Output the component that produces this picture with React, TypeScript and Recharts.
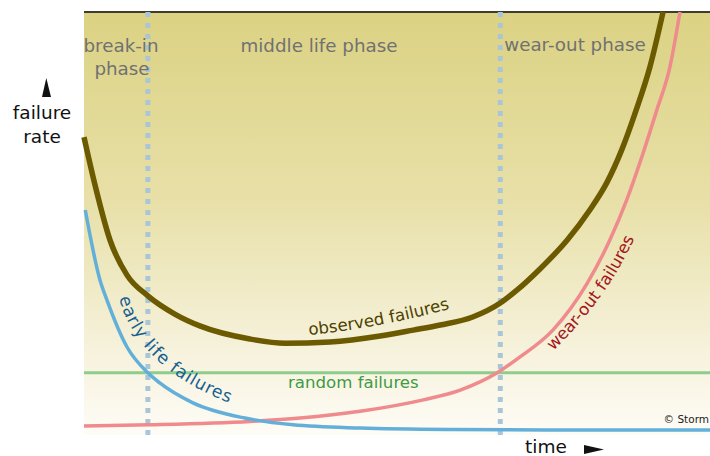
import { LineChart, Line, XAxis, YAxis, CartesianGrid, ReferenceLine } from "recharts";

// time axis runs 0..100, failure rate axis 0..100 (plot top)
const observedTime = [0, 1.76, 4.15, 6.87, 10.2, 14.5, 18.5, 26.5, 32.1, 39.3, 47.3, 52.6, 56.9, 62.1, 66.5, 69.2, 72.8, 77.2, 80.8, 83.5, 85.9, 88.2, 90.4, 92.5];
const observedRate = [70.4, 59.1, 46.1, 37.8, 32.9, 28.6, 25.8, 22.7, 21.7, 22.0, 23.4, 24.8, 26.0, 27.9, 31.2, 34.3, 39.2, 46.1, 53.2, 59.6, 67.4, 76.8, 87.0, 100];

const earlyTime = [0.2, 2.56, 3.67, 6.87, 10.2, 12.1, 17.4, 25.7, 33.4, 44.1, 58.5, 74.4, 100];
const earlyRate = [53.2, 36.6, 31.9, 20.8, 14.7, 12.3, 7.6, 4.0, 2.4, 1.65, 1.3, 1.2, 1.2];

const wearTime = [0, 10.5, 26.5, 34.5, 44.1, 54.2, 60.1, 66.0, 69.6, 74.9, 80.4, 84.0, 86.7, 89.1, 91.5, 93.6, 95.2];
const wearRate = [2.1, 2.4, 3.2, 4.0, 5.6, 8.3, 10.6, 14.7, 18.4, 24.8, 35.9, 46.1, 55.6, 65.7, 76.8, 87.0, 100];

const randomRate = 14.7;
const phaseBounds = [10.2, 66.5];
const timeTicks = [23.6];

const zip = (t: number[], r: number[]) => t.map((x, i) => ({ t: x, rate: r[i] }));
const observed = zip(observedTime, observedRate);
const early = zip(earlyTime, earlyRate);
const wear = zip(wearTime, wearRate);

const font = "'DejaVu Sans', Verdana, sans-serif";

function Labels() {
  return (
    <svg width={710} height={456} style={{ position: "absolute", left: 0, top: 0, pointerEvents: "none" }}>
      <defs>
        <path id="earlyPath" d="M 119 298 Q 138 368 232 404" />
        <path id="wearPath" d="M 553 351 Q 610 296 637 232" />
        <path id="obsPath" d="M 309 335 Q 380 328 452 308" />
      </defs>
      <g fontFamily={font} fontSize={18.3} fill="#717171" textAnchor="middle">
        <text x={121} y={52}>break-in</text>
        <text x={122} y={75}>phase</text>
        <text x={319} y={52}>middle life phase</text>
        <text x={575} y={51}>wear-out phase</text>
      </g>
      <g fontFamily={font} fontSize={18.5} fill="#111" textAnchor="middle">
        <text x={42} y={119}>failure</text>
        <text x={42} y={143}>rate</text>
        <text x={546} y={453}>time</text>
      </g>
      <polygon points="46.3,78 42,97 51,97" fill="#111" />
      <polygon points="584,445 584,454 604,449.5" fill="#111" />
      <g fontFamily={font} fontSize={16.6}>
        <text fill="#4d4200">
          <textPath href="#obsPath">observed failures</textPath>
        </text>
        <text x={288} y={388} fill="#3f9a45">random failures</text>
        <text fill="#15608f" fontSize={17.2} letterSpacing={0.8}>
          <textPath href="#earlyPath">early life failures</textPath>
        </text>
        <text fill="#a3161b">
          <textPath href="#wearPath">wear-out failures</textPath>
        </text>
      </g>
      <text x={709} y={423} textAnchor="end" fontFamily={font} fontSize={10.5} fill="#222">© Storm</text>
    </svg>
  );
}

export default function App() {
  return (
    <div style={{ position: "absolute", left: 0, top: 0, width: 710, height: 456, background: "#fff" }}>
      <LineChart width={710} height={456} margin={{ top: 12, right: 0, bottom: 21, left: 84 }}>
        <defs>
          <linearGradient id="bg" x1="0" y1="0" x2="0" y2="1">
            <stop offset="0%" stopColor="#dbd283" />
            <stop offset="45%" stopColor="#e8e0a8" />
            <stop offset="80%" stopColor="#f6f2dc" />
            <stop offset="100%" stopColor="#fefcf6" />
          </linearGradient>
        </defs>
        <CartesianGrid horizontal={false} vertical={false} fill="url(#bg)" />
        <XAxis
          type="number"
          dataKey="t"
          domain={[0, 100]}
          ticks={timeTicks}
          tick={false}
          tickSize={3}
          tickLine={{ stroke: "#aaa" }}
          axisLine={{ stroke: "#333", strokeWidth: 2 }}
          height={0}
        />
        <YAxis
          type="number"
          dataKey="rate"
          domain={[0, 100]}
          tick={false}
          tickLine={false}
          axisLine={{ stroke: "#333", strokeWidth: 1.5 }}
          width={0}
        />
        <ReferenceLine y={100} stroke="#3d3d2e" strokeWidth={2} />
        <ReferenceLine y={randomRate} stroke="#8fcd8c" strokeWidth={3} />
        {phaseBounds.map((x) => (
          <ReferenceLine key={x} x={x} stroke="#a9c6d8" strokeWidth={5} strokeDasharray="5 6" />
        ))}
        <Line data={wear} dataKey="rate" type="monotone" stroke="#ef8a8d" strokeWidth={3.5} dot={false} isAnimationActive={false} />
        <Line data={early} dataKey="rate" type="monotone" stroke="#62b0d9" strokeWidth={3.5} dot={false} isAnimationActive={false} />
        <Line data={observed} dataKey="rate" type="monotone" stroke="#6b5a00" strokeWidth={5.5} dot={false} isAnimationActive={false} />
      </LineChart>
      <Labels />
    </div>
  );
}
